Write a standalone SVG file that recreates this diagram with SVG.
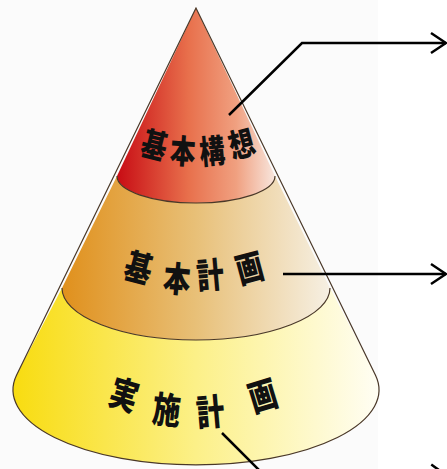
<svg xmlns="http://www.w3.org/2000/svg" width="447" height="469" viewBox="0 0 447 469">
<style>
.lbl{font-family:"Noto Sans CJK JP","Noto Sans CJK SC",sans-serif;font-weight:900;fill:#111;text-anchor:middle;dominant-baseline:central}
.edge{fill:none;stroke:#4a3828;stroke-width:1.2}
.conn{fill:none;stroke:#000;stroke-width:2.5}
</style>
<defs>
<linearGradient id="gTop" x1="117" y1="0" x2="276" y2="0" gradientUnits="userSpaceOnUse">
<stop offset="0" stop-color="#c80c14"/>
<stop offset="0.45" stop-color="#e8704c"/>
<stop offset="0.75" stop-color="#f0a080"/>
<stop offset="1" stop-color="#f8e8e0"/>
</linearGradient>
<linearGradient id="gMid" x1="62" y1="0" x2="331" y2="0" gradientUnits="userSpaceOnUse">
<stop offset="0" stop-color="#e0901c"/>
<stop offset="0.5" stop-color="#e8c078"/>
<stop offset="1" stop-color="#f6f0e4"/>
</linearGradient>
<linearGradient id="gBot" x1="13" y1="0" x2="379" y2="0" gradientUnits="userSpaceOnUse">
<stop offset="0" stop-color="#f8dc10"/>
<stop offset="0.5" stop-color="#fcf088"/>
<stop offset="1" stop-color="#fffef4"/>
</linearGradient>
<marker id="arr" viewBox="0 0 20 24" refX="18" refY="12" markerWidth="20" markerHeight="24" markerUnits="userSpaceOnUse" orient="auto">
<path d="M3,2 L18,12 L3,22" fill="none" stroke="#000" stroke-width="2.5"/>
</marker>
</defs>
<rect x="0" y="0" width="378" height="469" fill="#fbfbfb"/>
<g id="cone">
<g id="layer-bottom">
<path d="M16.5,375.3 L62,288 A134,52 0 0 0 330,288 L375.5,375.3 A183,75 0 1 1 16.5,375.3 Z" fill="url(#gBot)"/>
</g>
<g id="layer-middle">
<path d="M62,288 L117,176 A79,27 0 0 0 275,176 L330,288 A134,52 0 0 1 62,288 Z" fill="url(#gMid)"/>
</g>
<g id="layer-top">
<path d="M196,8 L117,176 A79,27 0 0 0 275,176 Z" fill="url(#gTop)"/>
</g>
<path class="edge" d="M196,8 L16.5,375.3 A183,75 0 1 0 375.5,375.3 Z"/>
<path class="edge" d="M117,176 A79,27 0 0 0 275,176" stroke-width="1.5"/>
<path class="edge" d="M62,288 A134,52 0 0 0 330,288" stroke-width="1.5"/>
</g>
<g id="label-top">
<text class="lbl" font-size="30" transform="translate(155,143) rotate(14) scale(0.85,1.1)">基</text>
<text class="lbl" font-size="30" transform="translate(183,149) rotate(4) scale(0.85,1.1)">本</text>
<text class="lbl" font-size="30" transform="translate(212,149) rotate(-5) scale(0.85,1.1)">構</text>
<text class="lbl" font-size="30" transform="translate(241,142) rotate(-15) scale(0.85,1.1)">想</text>
</g>
<g id="label-middle">
<text class="lbl" font-size="32" transform="translate(139,266) rotate(15) scale(0.85,1.1)">基</text>
<text class="lbl" font-size="32" transform="translate(177,277) rotate(5) scale(0.85,1.1)">本</text>
<text class="lbl" font-size="32" transform="translate(210,273) rotate(-5) scale(0.85,1.1)">計</text>
<text class="lbl" font-size="32" transform="translate(249,266) rotate(-15) scale(0.85,1.1)">画</text>
</g>
<g id="label-bottom">
<text class="lbl" font-size="33" transform="translate(125,392) rotate(17) scale(0.85,1.1)">実</text>
<text class="lbl" font-size="33" transform="translate(167,407) rotate(6) scale(0.85,1.1)">施</text>
<text class="lbl" font-size="33" transform="translate(210,409) rotate(-5) scale(0.85,1.1)">計</text>
<text class="lbl" font-size="33" transform="translate(262,393) rotate(-17) scale(0.85,1.1)">画</text>
</g>
<g id="connectors">
<path class="conn" d="M229,115 L302,43 L446,43" marker-end="url(#arr)"/>
<path class="conn" d="M283,274 L446,274" marker-end="url(#arr)"/>
<path class="conn" d="M222,433 L259,470 L446,475" marker-end="url(#arr)"/>
</g>
</svg>
